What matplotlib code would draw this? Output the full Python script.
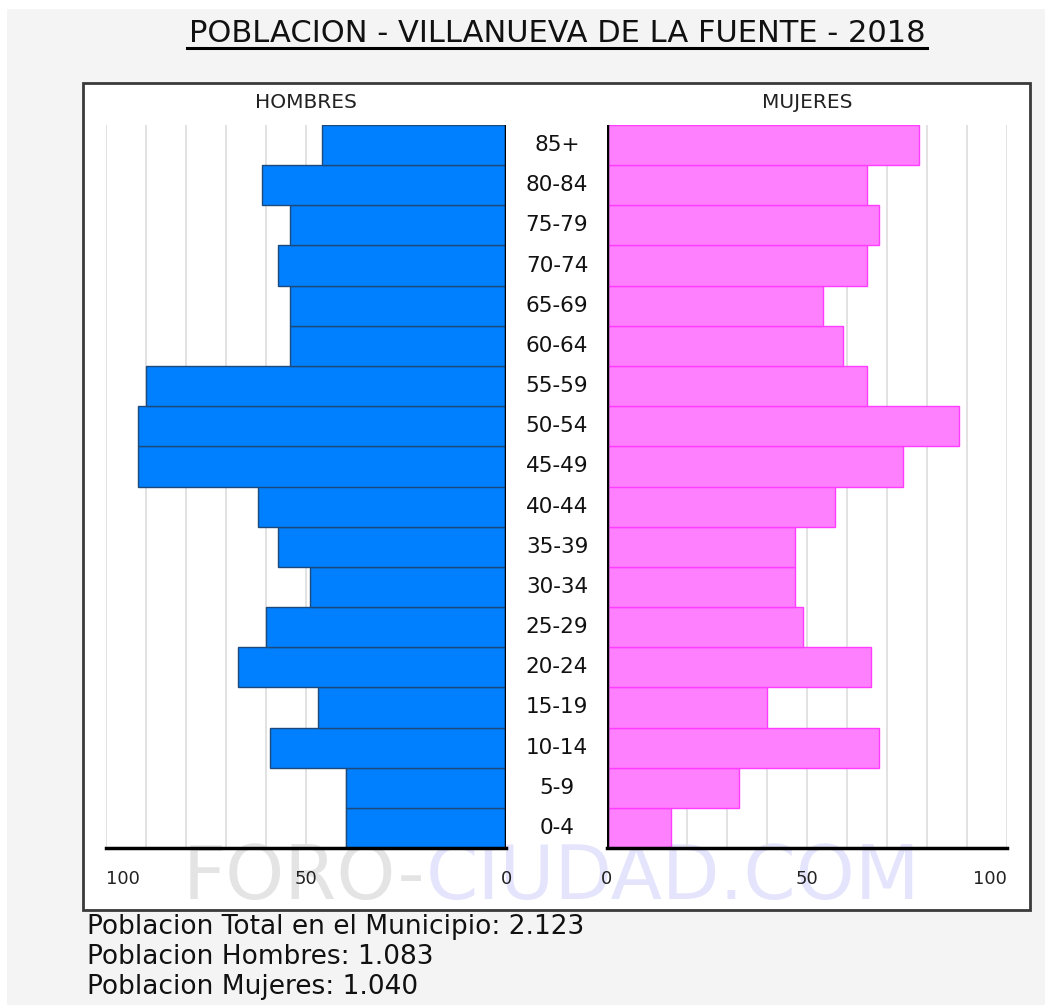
import matplotlib
matplotlib.use("Agg")
import matplotlib.pyplot as plt
import matplotlib.transforms as mtransforms
from matplotlib.patches import Rectangle
from matplotlib.lines import Line2D

# datos: grupos de edad de abajo (0-4) hacia arriba (85+)
grupos = ["0-4", "5-9", "10-14", "15-19", "20-24", "25-29", "30-34", "35-39",
          "40-44", "45-49", "50-54", "55-59", "60-64", "65-69", "70-74",
          "75-79", "80-84", "85+"]
hombres = [40, 40, 59, 47, 67, 60, 49, 57, 62, 92, 92, 90, 54, 54, 57, 54, 61, 46]
mujeres = [16, 33, 68, 40, 66, 49, 47, 47, 57, 74, 88, 65, 59, 54, 65, 68, 65, 78]
ticks_izq = [100, 50, 0]
ticks_der = [0, 50, 100]
titulo = "POBLACION - VILLANUEVA DE LA FUENTE - 2018"
total_txt = "Poblacion Total en el Municipio: 2.123"
hombres_txt = "Poblacion Hombres: 1.083"
mujeres_txt = "Poblacion Mujeres: 1.040"

W, H = 1045, 1005
fig = plt.figure(figsize=(W / 100, H / 100), dpi=100)
fig.patch.set_facecolor("white")

def fx(px):
    return px / W

def fy(py):
    return 1 - py / H

# fondo gris (con franja blanca arriba e izquierda)
fig.add_artist(Rectangle((fx(7), 0), 1, fy(9), transform=fig.transFigure,
                         facecolor="#f4f4f4", edgecolor="none", zorder=-3))
# panel blanco
fig.add_artist(Rectangle((fx(83), fy(910)), fx(1030) - fx(83), fy(83) - fy(910),
                         transform=fig.transFigure, facecolor="white",
                         edgecolor="#3a3a3a", linewidth=2, zorder=-2))

# titulo subrayado
fig.text(fx(557), fy(34), titulo, ha="center", va="center", fontsize=22, color="#111111")
fig.add_artist(Line2D([fx(187), fx(927)], [fy(48), fy(48)], transform=fig.transFigure,
                      color="black", linewidth=2.2))

# marca de agua (dos colores, una tras otra)
renderer = fig.canvas.get_renderer()
t1 = fig.text(fx(183), fy(878), "FORO-", ha="left", va="center", fontsize=54,
              color="#e4e4e4", zorder=-1)
bb = t1.get_window_extent(renderer=renderer)
fig.text(bb.x1 / W, fy(878), "CIUDAD.COM", ha="left", va="center", fontsize=54,
         color="#e4e4fc", zorder=-1)

bot, top = fy(848), fy(125)
ax_h = fig.add_axes([fx(106), bot, fx(506) - fx(106), top - bot])
ax_m = fig.add_axes([fx(607), bot, fx(1007) - fx(607), top - bot])

y = list(range(len(grupos)))

for ax, vals, color, edge, ticks, lim in [
        (ax_h, hombres, "#0080ff", "#1d4a7a", ticks_izq, (100, 0)),
        (ax_m, mujeres, "#ff80ff", "#ff3cff", ticks_der, (0, 100))]:
    ax.set_facecolor("none")
    for g in range(10, 101, 10):
        ax.axvline(g, color="#e2e2e2", linewidth=1.4, zorder=0)
    ax.barh(y, vals, height=1.0, color=color, edgecolor=edge, linewidth=1.0, zorder=2)
    ax.axvline(0, color="black", linewidth=2.5, zorder=3)
    ax.set_xlim(*lim)
    ax.set_ylim(-0.5, len(grupos) - 0.5)
    ax.set_yticks([])
    for s in ["top", "left", "right"]:
        ax.spines[s].set_visible(False)
    ax.spines["bottom"].set_linewidth(2.5)
    ax.set_xticks(ticks)
    ax.set_xticklabels([str(t) for t in ticks], fontsize=13, color="#222222")
    ax.tick_params(axis="x", length=0, pad=16)

for lab in ax_h.get_xticklabels():
    if lab.get_text() == "100":
        lab.set_ha("left")
for lab in ax_m.get_xticklabels():
    if lab.get_text() == "100":
        lab.set_ha("right")

# etiquetas de grupos de edad en el centro
trans = mtransforms.blended_transform_factory(fig.transFigure, ax_h.transData)
for i, g in enumerate(grupos):
    fig.text(fx(557), i, g, transform=trans, ha="center", va="center",
             fontsize=15.5, color="#111111")

fig.text(fx(306), fy(103), "HOMBRES", ha="center", va="center", fontsize=14.5, color="#222222")
fig.text(fx(807), fy(103), "MUJERES", ha="center", va="center", fontsize=14.5, color="#222222")

# totales
fig.text(fx(87), fy(927), total_txt, ha="left", va="center", fontsize=19, color="#111111")
fig.text(fx(87), fy(957), hombres_txt, ha="left", va="center", fontsize=19, color="#111111")
fig.text(fx(87), fy(987), mujeres_txt, ha="left", va="center", fontsize=19, color="#111111")

fig.savefig("out.png", dpi=100)
